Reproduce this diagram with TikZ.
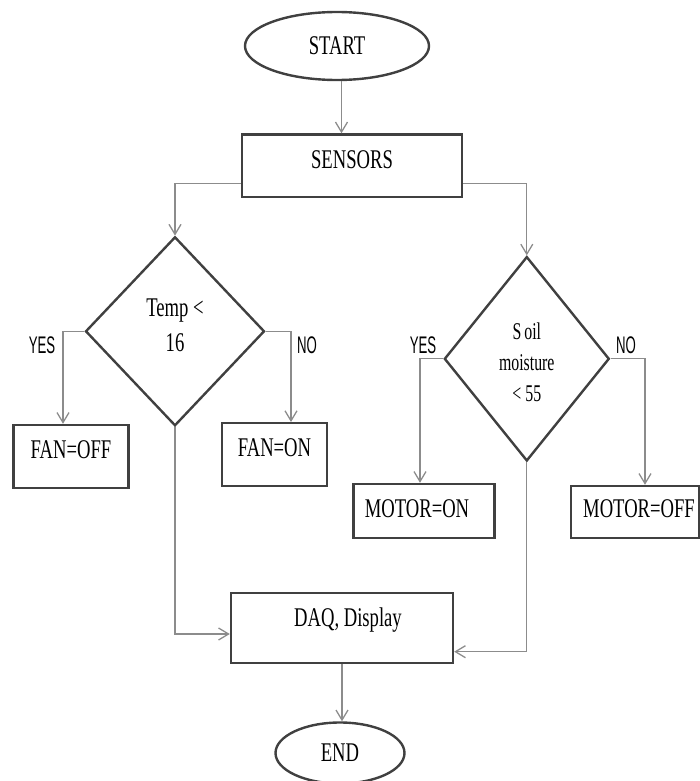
\documentclass[tikz,border=0pt]{standalone}
\usepackage{fontspec}
\setmainfont{Liberation Serif}[FakeStretch=0.69]
\newfontfamily\yesfont{Liberation Sans}[FakeStretch=0.55]
\newfontfamily\soilfont{Liberation Serif}[FakeStretch=0.66]
\usetikzlibrary{shapes.geometric,arrows.meta}
\begin{document}
\begin{tikzpicture}[x=1pt,y=-1pt,
  shapeline/.style={draw=black!75, line width=2.4pt},
  terminal/.style={shapeline, ellipse, inner sep=0pt, font=\fontsize{27}{32}\selectfont},
  procbox/.style={shapeline, rectangle, inner sep=0pt, font=\fontsize{27}{32}\selectfont, text height=17.9pt},
  decision/.style={shapeline, diamond, inner sep=0pt},
  condtext/.style={align=center, inner sep=0pt},
  flow/.style={draw=black!45, line width=1.3pt, -{Straight Barb[length=10pt,width=12pt]}},
  answer/.style={font=\yesfont\fontsize{24}{26}\selectfont, inner sep=0pt},
]
\useasboundingbox (0,0) rectangle (700,781);

% nodes
\node[terminal, minimum width=184pt, minimum height=68pt] (start) at (337,46) {START};
\node[procbox, minimum width=220pt, minimum height=62.5pt, text depth=12pt] (sensors) at (352,165.75) {SENSORS};
\node[decision, minimum width=179pt, minimum height=189pt] (temp) at (175,331.3) {};
\node[condtext, font=\fontsize{27}{35}\selectfont] (temptext) at ([yshift=6pt]temp.center) {Temp <\\16};
\node[decision, minimum width=165pt, minimum height=204.4pt] (soil) at (526.8,358.8) {};
\node[condtext, font=\soilfont\fontsize{24}{31}\selectfont] (soiltext) at ([yshift=-3pt]soil.center) {S\kern3pt oil\\moisture\\< 55};
\node[procbox, minimum width=115pt, minimum height=63pt, text depth=14pt] (fanoff) at (71,456.5) {FAN=OFF};
\node[procbox, minimum width=105pt, minimum height=63pt, text depth=14pt] (fanon) at (274.5,454.75) {FAN=ON};
\node[procbox, minimum width=141pt, minimum height=54pt, text depth=4pt] (motoron) at (424,511) {MOTOR=ON\kern14pt};
\node[procbox, minimum width=128pt, minimum height=52pt, text depth=6pt] (motoroff) at (635,512) {\kern8pt MOTOR=OFF};
\node[procbox, minimum width=222pt, minimum height=70pt, text depth=20pt] (daq) at (342,628) {\kern12pt DAQ, Display};
\node[terminal, minimum width=129pt, minimum height=61pt] (end) at (340,753) {END};

% labels
\node[answer] (yes1) at (42,345) {YES};
\node[answer] (no1) at (307,345) {NO};
\node[answer] (yes2) at (423,345) {YES};
\node[answer] (no2) at (626,345) {NO};

% connectors
\draw[flow] ([xshift=4.5pt]start.south) -- ([xshift=4.5pt]start.south |- sensors.north);
\draw[flow] ([yshift=-17.5pt]sensors.west) -| (temp.north);
\draw[flow] ([yshift=-17.5pt]sensors.east) -| (soil.north);
\draw[flow] (temp.west) -| ([xshift=-8pt]fanoff.north);
\draw[flow] (temp.east) -| ([xshift=16.5pt]fanon.north);
\draw[flow] (temp.south) |- ([yshift=-6pt]daq.west);
\draw[flow] (soil.west) -| ([xshift=-4pt]motoron.north);
\draw[flow] (soil.east) -| ([xshift=10pt]motoroff.north);
\draw[flow] (soil.south) |- ([yshift=-23.7pt]daq.east);
\draw[flow] (daq.south) -- (daq.south |- end.north);
\end{tikzpicture}
\end{document}
